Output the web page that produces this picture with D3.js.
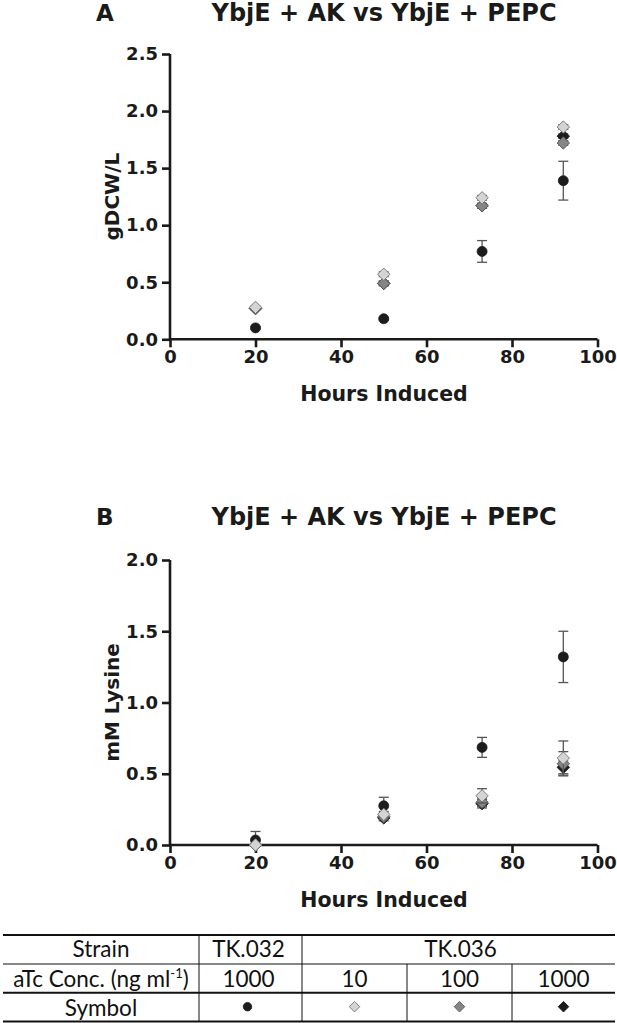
<!DOCTYPE html>
<html><head><meta charset="utf-8">
<script src="https://cdn.jsdelivr.net/npm/d3@7"></script>
<style>
html,body{margin:0;padding:0;background:#fff;}
svg{display:block;}
</style></head>
<body>
<svg id="chart" width="617" height="1023"></svg>
<script>
// ---------- DATA ----------
const hours = [20, 50, 73, 92];
const xTicks = [0, 20, 40, 60, 80, 100];
const yTicksA = [0, 0.5, 1.0, 1.5, 2.0, 2.5];
const yTicksB = [0, 0.5, 1.0, 1.5, 2.0];

// Panel A: gDCW/L
const dcw_TK032_1000 = [0.10, 0.18, 0.77, 1.39];
const dcwErr_TK032_1000 = [0.01, 0.01, 0.095, 0.17];
const dcw_TK036_10 = [0.28, 0.57, 1.24, 1.86];
const dcwErr_TK036_10 = [0.01, 0.02, 0.02, 0.02];
const dcw_TK036_100 = [0.27, 0.49, 1.17, 1.72];
const dcwErr_TK036_100 = [0.01, 0.02, 0.02, 0.02];
const dcw_TK036_1000 = [0.27, 0.49, 1.17, 1.78];
const dcwErr_TK036_1000 = [0.01, 0.02, 0.02, 0.02];

// Panel B: mM Lysine
const lys_TK032_1000 = [0.035, 0.275, 0.685, 1.32];
const lysErr_TK032_1000 = [0.06, 0.06, 0.07, 0.18];
const lys_TK036_10 = [0.0, 0.215, 0.345, 0.61];
const lysErr_TK036_10 = [0.01, 0.02, 0.05, 0.12];
const lys_TK036_100 = [0.0, 0.20, 0.30, 0.57];
const lysErr_TK036_100 = [0.01, 0.02, 0.03, 0.085];
const lys_TK036_1000 = [0.0, 0.19, 0.29, 0.545];
const lysErr_TK036_1000 = [0.01, 0.02, 0.03, 0.045];

// Table
const tableStrains = ["TK.032", "TK.036"];
const tableConcs = ["1000", "10", "100", "1000"];
const seriesKeys = ["circle", "light", "medium", "dark"];

// ---------- STYLE ----------
const styles = {
  circle: {shape: "circle", fill: "#1c1c1c", stroke: "#1c1c1c"},
  light:  {shape: "diamond", fill: "#d4d4d4", stroke: "#7a7a7a"},
  medium: {shape: "diamond", fill: "#858585", stroke: "#5a5a5a"},
  dark:   {shape: "diamond", fill: "#1c1c1c", stroke: "#1c1c1c"}
};
const FONT = "'DejaVu Sans', sans-serif";
const TFONT = "Lato, 'Open Sans', sans-serif";

const svg = d3.select("#chart");

function marker(g, key, cx, cy, scale) {
  const st = styles[key];
  const s = scale || 1;
  if (st.shape === "circle") {
    g.append("circle").attr("cx", cx).attr("cy", cy).attr("r", 5 * s)
      .attr("fill", st.fill).attr("stroke", st.stroke).attr("stroke-width", 0.8);
  } else {
    const half = 6.2 * s;
    const side = half * Math.SQRT2;
    g.append("path")
      .attr("d", d3.symbol().type(d3.symbolSquare).size(side * side)())
      .attr("transform", `translate(${cx},${cy}) rotate(45)`)
      .attr("fill", st.fill).attr("stroke", st.stroke).attr("stroke-width", 0.9);
  }
}

function panel(opt) {
  const x = d3.scaleLinear().domain([0, 100]).range([170, 597.5]);
  const y = d3.scaleLinear().domain([0, opt.yMax]).range([opt.y0, opt.yTop]);
  const g = svg.append("g");

  const xAxis = d3.axisBottom(x).tickValues(xTicks).tickSize(8).tickPadding(4).tickFormat(d3.format("d"));
  const yAxis = d3.axisLeft(y).tickValues(opt.yTicks).tickSize(8).tickPadding(4).tickFormat(d3.format(".1f"));
  const gx = g.append("g").attr("transform", `translate(0,${opt.y0})`).call(xAxis);
  const gy = g.append("g").attr("transform", `translate(170,0)`).call(yAxis);
  [gx, gy].forEach(a => {
    a.select(".domain").attr("stroke", "#1a1a1a").attr("stroke-width", 2.6);
    a.selectAll(".tick line").attr("stroke", "#1a1a1a").attr("stroke-width", 2.6);
    a.selectAll(".tick text").attr("fill", "#1a1a1a").style("font-family", FONT)
      .style("font-weight", "bold").style("font-size", "18px");
  });
  gx.select(".domain").attr("d", `M${x(0)},0H${x(100)}`);
  gy.select(".domain").attr("d", `M0,${y(0)}V${y(opt.yMax)}`);
  gx.selectAll(".tick text").attr("dy", null).attr("y", 23.5);

  g.append("text").attr("x", 96).attr("y", opt.yTitle).text(opt.letter)
    .style("font-family", FONT).style("font-weight", "bold").style("font-size", "23px").attr("fill", "#1a1a1a");
  g.append("text").attr("x", 384).attr("y", opt.yTitle).attr("text-anchor", "middle").text("YbjE + AK vs YbjE + PEPC")
    .style("font-family", FONT).style("font-weight", "bold").style("font-size", "24px").attr("fill", "#1a1a1a");
  g.append("text").attr("x", 384).attr("y", opt.y0 + 62).attr("text-anchor", "middle").text("Hours Induced")
    .style("font-family", FONT).style("font-weight", "bold").style("font-size", "20.5px").attr("fill", "#1a1a1a");
  const cy = (opt.y0 + opt.yTop) / 2;
  g.append("text").attr("transform", `translate(119,${cy}) rotate(-90)`).attr("text-anchor", "middle").text(opt.yLabel)
    .style("font-family", FONT).style("font-weight", "bold").style("font-size", "20px").attr("fill", "#1a1a1a");

  const order = ["circle", "dark", "medium", "light"];
  order.forEach(key => {
    const vals = opt.series[key], errs = opt.errors[key];
    const sg = g.append("g");
    hours.forEach((h, i) => {
      const px = x(h), v = vals[i], e = errs[i];
      const y1 = y(v + e), y2 = y(Math.max(0, v - e));
      sg.append("line").attr("x1", px).attr("x2", px).attr("y1", y1).attr("y2", y2)
        .attr("stroke", "#555").attr("stroke-width", 1.3);
      [y1, y2].forEach(yy => sg.append("line").attr("x1", px - 5).attr("x2", px + 5).attr("y1", yy).attr("y2", yy)
        .attr("stroke", "#555").attr("stroke-width", 1.3));
    });
    hours.forEach((h, i) => marker(sg, key, x(h), y(vals[i])));
  });
}

panel({
  letter: "A", yTitle: 21, y0: 339.3, yTop: 54, yMax: 2.5, yTicks: yTicksA, yLabel: "gDCW/L",
  series: {circle: dcw_TK032_1000, light: dcw_TK036_10, medium: dcw_TK036_100, dark: dcw_TK036_1000},
  errors: {circle: dcwErr_TK032_1000, light: dcwErr_TK036_10, medium: dcwErr_TK036_100, dark: dcwErr_TK036_1000}
});
panel({
  letter: "B", yTitle: 525, y0: 845, yTop: 560, yMax: 2.0, yTicks: yTicksB, yLabel: "mM Lysine",
  series: {circle: lys_TK032_1000, light: lys_TK036_10, medium: lys_TK036_100, dark: lys_TK036_1000},
  errors: {circle: lysErr_TK032_1000, light: lysErr_TK036_10, medium: lysErr_TK036_100, dark: lysErr_TK036_1000}
});

// ---------- TABLE ----------
const colEdges = [3, 199, 302, 407, 512, 615];
const rowEdges = [935, 964, 992.7, 1021.5];
const tx = d3.scaleOrdinal().domain([0,1,2,3,4]).range([0,1,2,3,4].map(i => (colEdges[i] + colEdges[i+1]) / 2));
const tg = svg.append("g");
const hw = [2.2, 1.1, 2, 2];
rowEdges.forEach((ry, i) => tg.append("line").attr("x1", colEdges[0]).attr("x2", colEdges[5]).attr("y1", ry).attr("y2", ry)
  .attr("stroke", "#111").attr("stroke-width", hw[i]));
[1, 2].forEach(i => tg.append("line").attr("x1", colEdges[i]).attr("x2", colEdges[i]).attr("y1", rowEdges[0]).attr("y2", rowEdges[3])
  .attr("stroke", "#111").attr("stroke-width", 1));
[3, 4].forEach(i => tg.append("line").attr("x1", colEdges[i]).attr("x2", colEdges[i]).attr("y1", rowEdges[1]).attr("y2", rowEdges[3])
  .attr("stroke", "#111").attr("stroke-width", 1));

function ttext(xp, yp, s) {
  return tg.append("text").attr("x", xp).attr("y", yp).attr("text-anchor", "middle").text(s)
    .style("font-family", TFONT).style("font-size", "22.5px").attr("fill", "#111");
}
const rb = [957.3, 986.5, 1015.5];
ttext(tx(0), rb[0], "Strain");
ttext(tx(1) - 2, rb[0], tableStrains[0]);
ttext((colEdges[2] + colEdges[5]) / 2 + 2, rb[0], tableStrains[1]);
const conc = tg.append("text").attr("x", tx(0)).attr("y", rb[1]).attr("text-anchor", "middle")
  .style("font-family", TFONT).style("font-size", "22.5px").attr("fill", "#111");
conc.append("tspan").text("aTc Conc. (ng ml");
conc.append("tspan").text("-1").attr("dy", -9).style("font-size", "13px");
conc.append("tspan").text(")").attr("dy", 9);
tableConcs.forEach((c, i) => ttext(tx(i + 1) - (i === 0 ? 2 : 0), rb[1], c));
ttext(tx(0), rb[2], "Symbol");
seriesKeys.forEach((k, i) => marker(tg, k, tx(i + 1) - (i === 0 ? 3 : 0), 1006.7, 0.85));
</script>
</body></html>
